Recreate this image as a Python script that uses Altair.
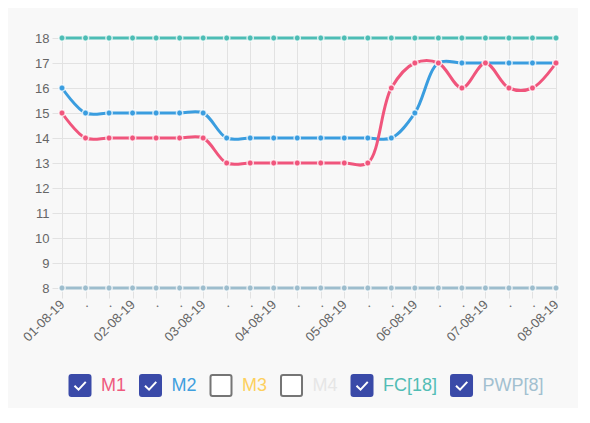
import json
import altair as alt
import pandas as pd

# ---- data ----
x_labels = ["01-08-19", ".", ".", "02-08-19", ".", ".", "03-08-19", ".", ".",
            "04-08-19", ".", ".", "05-08-19", ".", ".", "06-08-19", ".", ".",
            "07-08-19", ".", ".", "08-08-19"]
m1 = [15, 14, 14, 14, 14, 14, 14, 13, 13, 13, 13, 13, 13, 13, 16, 17, 17, 16, 17, 16, 16, 17]
m2 = [16, 15, 15, 15, 15, 15, 15, 14, 14, 14, 14, 14, 14, 14, 14, 15, 17, 17, 17, 17, 17, 17]
fc = [18, 18, 18, 18, 18, 18, 18, 18, 18, 18, 18, 18, 18, 18, 18, 18, 18, 18, 18, 18, 18, 18]
pwp = [8, 8, 8, 8, 8, 8, 8, 8, 8, 8, 8, 8, 8, 8, 8, 8, 8, 8, 8, 8, 8, 8]
y_ticks = [8, 9, 10, 11, 12, 13, 14, 15, 16, 17, 18]

legend_names = ["M1", "M2", "M3", "M4", "FC[18]", "PWP[8]"]
legend_checked = [True, True, False, False, True, True]
legend_colors = ["#ef5a7f", "#3f9fde", "#fdd05e", "#e6e6e6", "#52bdb5", "#a2c0d0"]

series = [("PWP[8]", pwp, "#9dbdcd"), ("FC[18]", fc, "#4dbdb5"),
          ("M2", m2, "#3a9ddf"), ("M1", m1, "#f0557c")]

FONT = "Liberation Sans"
GRID = "#e2e2e2"
W, H = 494, 250

label_expr = json.dumps(x_labels) + "[datum.value]"

x_enc = alt.X("i:Q",
              scale=alt.Scale(domain=[0, len(x_labels) - 1], nice=False, zero=False),
              axis=alt.Axis(values=list(range(len(x_labels))), labelExpr=label_expr,
                            labelAngle=-45, labelAlign="right", labelBaseline="middle",
                            labelFlush=False, labelOverlap=False, labelBound=False,
                            labelPadding=4, title=None, grid=True))
y_enc = alt.Y("v:Q",
              scale=alt.Scale(domain=[8, 18], nice=False, zero=False),
              axis=alt.Axis(values=y_ticks, title=None, grid=True, labelPadding=3))

layers = []
for name, vals, col in series:
    d = pd.DataFrame({"i": list(range(len(vals))), "v": vals})
    base = alt.Chart(d).encode(x=x_enc, y=y_enc)
    layers.append(base.mark_line(interpolate="catmull-rom", strokeWidth=3, color=col))
    layers.append(base.mark_circle(size=40, color=col, opacity=1, stroke="#ffffff",
                                   strokeWidth=1.5, strokeOpacity=0.75))
plot = alt.layer(*layers)

# ---- checkbox legend ----
char_w = {"M": 0.833, "1": 0.556, "2": 0.556, "3": 0.556, "4": 0.556, "8": 0.556,
          "F": 0.611, "C": 0.722, "[": 0.278, "]": 0.278, "P": 0.667, "W": 0.944}
fs = 18
pos, lab = [], []
cur = 18.0
for n in legend_names:
    pos.append(cur)
    lab.append(cur + 21)
    cur = cur + 21 + sum(char_w[c] for c in n) * fs + 24.5
leg = pd.DataFrame({
    "name": legend_names, "pos": pos, "lab": lab,
    "lc": legend_colors,
    "fill": ["#3a4aa8" if c else "#ffffff" for c in legend_checked],
    "stroke": ["#3a4aa8" if c else "#757575" for c in legend_checked],
    "checked": legend_checked,
})
lx = alt.Scale(domain=[0, W], nice=False, zero=False)
lbase = alt.Chart(leg)
boxes = lbase.transform_calculate(x1="datum.pos - 10.5", x2="datum.pos + 10.5").mark_rect(
    cornerRadius=2, strokeWidth=2).encode(
    x=alt.X("x1:Q", scale=lx, axis=None), x2="x2:Q",
    y=alt.value(337), y2=alt.value(358),
    fill=alt.Fill("fill:N", scale=None), stroke=alt.Stroke("stroke:N", scale=None))
checks = lbase.transform_filter("datum.checked").mark_point(
    shape="M -0.45 0.02 L -0.12 0.34 L 0.47 -0.3", filled=False, size=600,
    stroke="#ffffff", strokeWidth=2, opacity=1).encode(
    x=alt.X("pos:Q", scale=lx, axis=None), y=alt.value(347.5))
texts = lbase.mark_text(align="left", baseline="middle", font=FONT, fontSize=fs).encode(
    x=alt.X("lab:Q", scale=lx, axis=None), y=alt.value(348),
    text="name:N", color=alt.Color("lc:N", scale=None))
legend = alt.layer(boxes, checks, texts)

chart = alt.layer(plot, legend).resolve_scale(x="independent", y="independent").properties(
    width=W, height=H,
    autosize=alt.AutoSizeParams(type="none"),
    padding={"left": 54, "top": 30, "right": 22, "bottom": 120},
    background="#f8f8f8",
).configure_axis(
    gridColor=GRID, tickColor=GRID, domain=False, labelColor="#666666",
    labelFont=FONT, labelFontSize=13, tickSize=10,
).configure_view(stroke=None)

chart.save("out.html", embed_options={"renderer": "svg", "actions": False})
